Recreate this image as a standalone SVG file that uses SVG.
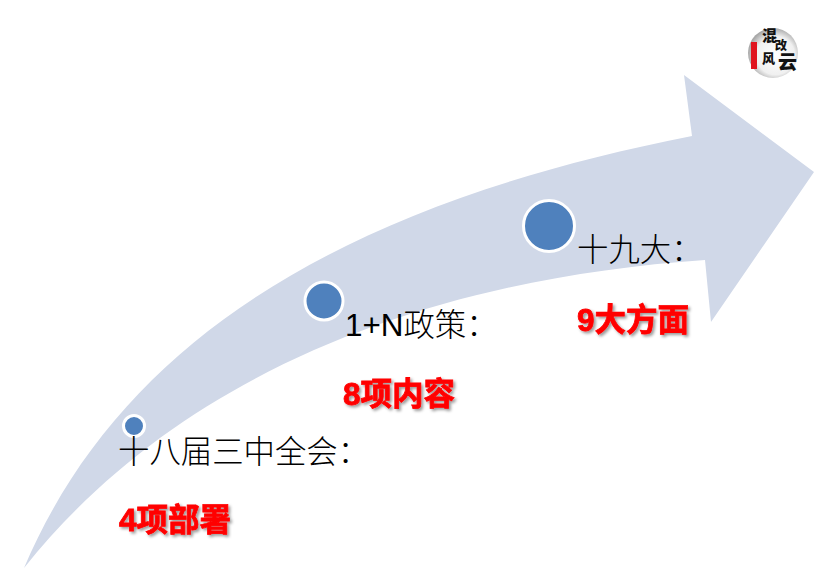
<svg xmlns="http://www.w3.org/2000/svg" width="824" height="577" viewBox="0 0 824 577">
<defs>
<style>
.l{font-family:"Liberation Sans","Noto Sans CJK SC",sans-serif;font-size:31.4px;font-weight:300;fill:#000}
.r{font-family:"Liberation Sans","Noto Sans CJK SC",sans-serif;font-size:31.5px;font-weight:bold;fill:#f00;stroke:#f00;stroke-width:.8;filter:url(#s)}
.d{fill:#4f81bd;stroke:#fff;stroke-width:3}
.g{font-family:"Noto Sans CJK SC",sans-serif;font-weight:900;fill:#111}
</style>
<filter id="s" x="-10%" y="-20%" width="120%" height="140%"><feDropShadow dx="2" dy="2" stdDeviation="1.5" flood-color="#000" flood-opacity=".4"/></filter>
<radialGradient id="lg" cx=".55" cy=".55" r=".55"><stop offset="0" stop-color="#fff"/><stop offset=".7" stop-color="#f0f0f0"/><stop offset="1" stop-color="#a8a8a8"/></radialGradient>
</defs>
<rect width="824" height="577" fill="#fff"/>
<g id="connectors"><path id="arrow" fill="#d0d8e8" d="M24 568C120 342 340 205 692 136L684 75L814 172L711 322L705 260C430 279 180 372 24 568Z"/></g>
<g id="node-1"><circle class="d" cx="134" cy="426" r="10.5"/><text class="l" x="118" y="463">十八届三中全会：</text><text class="r" x="119" y="531">4项部署</text></g>
<g id="node-2"><circle class="d" cx="324" cy="301" r="19"/><text class="l" x="345" y="336">1+N政策：</text><text class="r" x="343" y="405">8项内容</text></g>
<g id="node-3"><circle class="d" cx="549" cy="226" r="25.5"/><text class="l" x="577" y="261">十九大：</text><text class="r" x="577" y="331">9大方面</text></g>
<g id="logo"><circle cx="773" cy="53" r="25" fill="url(#lg)"/><rect x="751" y="42" width="6" height="27" fill="#e0141e"/><text class="g" font-size="15" x="762" y="41">混</text><text class="g" font-size="12" x="775" y="50">改</text><text class="g" font-size="13" x="762" y="63">风</text><text class="g" font-size="19" x="778" y="69">云</text></g>
</svg>
